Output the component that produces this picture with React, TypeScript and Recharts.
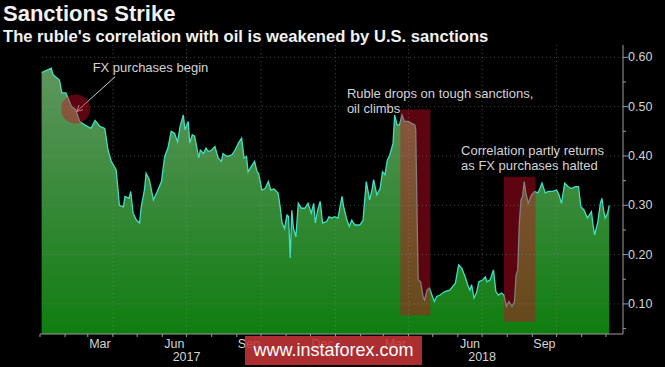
import React from "react";
import {
  Area,
  AreaChart,
  ReferenceArea,
  ReferenceDot,
  ReferenceLine,
  XAxis,
  YAxis,
} from "recharts";

// x values are days since 1 Jan 2017
const DAYS = [
  2, 14, 16, 24, 27, 32, 39, 44, 49, 55, 63, 68, 74, 80, 84, 88, 94, 96, 98, 103,
  105, 110, 112, 115, 119, 123, 125, 129, 131, 135, 140, 144, 150, 154, 158, 162,
  166, 170, 173, 177, 179, 183, 185, 188, 191, 196, 198, 202, 205, 208, 212, 216,
  220, 224, 226, 231, 237, 241, 245, 249, 252, 255, 257, 261, 265, 268, 270, 274,
  278, 282, 285, 289, 294, 296, 299, 302, 305, 307, 309, 311, 313, 316, 319, 323,
  327, 331, 335, 338, 340, 343, 346, 349, 354, 357, 360, 364, 368, 373, 375, 379,
  382, 385, 389, 395, 399, 401, 403, 407, 410, 412, 416, 420, 423, 426, 429, 432,
  436, 438, 441, 444, 447, 450, 455, 459, 463, 464, 467, 470, 473, 475, 478, 481,
  484, 487, 490, 494, 500, 506, 513, 517, 521, 525, 529, 531, 533, 536, 539, 542,
  547, 550, 552, 556, 560, 563, 566, 570, 573, 576, 579, 583, 586, 588, 590, 592,
  594, 596, 598, 600, 603, 607, 611, 615, 620, 624, 628, 633, 638, 641, 644, 648,
  652, 656, 661, 665, 668, 672, 676, 681, 683, 685, 689, 692, 694, 696, 698, 701,
  703,
];

const CORR = [
  0.569, 0.578, 0.565, 0.554, 0.528, 0.528, 0.5, 0.494, 0.47, 0.463, 0.456, 0.472,
  0.46, 0.456, 0.412, 0.389, 0.372, 0.338, 0.3, 0.297, 0.318, 0.314, 0.328, 0.284,
  0.27, 0.264, 0.297, 0.331, 0.365, 0.352, 0.311, 0.325, 0.348, 0.399, 0.416, 0.45,
  0.446, 0.429, 0.46, 0.483, 0.453, 0.47, 0.426, 0.443, 0.44, 0.396, 0.412, 0.405,
  0.416, 0.409, 0.412, 0.419, 0.396, 0.389, 0.405, 0.399, 0.402, 0.412, 0.426, 0.436,
  0.396, 0.399, 0.368, 0.379, 0.389, 0.368, 0.365, 0.331, 0.334, 0.348, 0.331, 0.333,
  0.325, 0.304, 0.264, 0.253, 0.28, 0.277, 0.193, 0.29, 0.253, 0.236, 0.304, 0.294,
  0.294, 0.304, 0.284, 0.304, 0.264, 0.29, 0.308, 0.264, 0.267, 0.277, 0.274, 0.277,
  0.274, 0.318, 0.297, 0.27, 0.257, 0.27, 0.26, 0.26, 0.27, 0.311, 0.348, 0.311,
  0.331, 0.352, 0.321, 0.334, 0.368, 0.362, 0.392, 0.402, 0.426, 0.483, 0.463, 0.463,
  0.483, 0.47, 0.47, 0.466, 0.463, 0.453, 0.149, 0.145, 0.115, 0.108, 0.128, 0.132,
  0.118, 0.105, 0.115, 0.118, 0.125, 0.128, 0.142, 0.179, 0.172, 0.155, 0.135, 0.128,
  0.139, 0.112, 0.122, 0.145, 0.149, 0.155, 0.145, 0.149, 0.169, 0.125, 0.118, 0.122,
  0.118, 0.095, 0.105, 0.095, 0.105, 0.159, 0.169, 0.264, 0.311, 0.318, 0.348, 0.325,
  0.304, 0.321, 0.328, 0.325, 0.345, 0.325, 0.328, 0.328, 0.331, 0.321, 0.304, 0.345,
  0.338, 0.334, 0.338, 0.338, 0.297, 0.29, 0.274, 0.287, 0.26, 0.24, 0.267, 0.304,
  0.314, 0.29, 0.274, 0.284, 0.3,
];

const MONTH_STARTS = [
  0, 31, 59, 90, 120, 151, 181, 212, 243, 273, 304, 334, 365, 396, 424, 455, 485,
  516, 546, 577, 608, 638, 669, 699,
];
const QUARTER_STARTS = [90, 181, 273, 365, 455, 546, 638];
const MONTH_LABELS = ["Mar", "Jun", "Sep", "Dec", "Mar", "Jun", "Sep"];
const MONTH_LABEL_DAYS = [74, 166, 258, 349, 439, 531, 623];
const YEAR_LABELS = ["2017", "2018"];
const YEAR_LABEL_DAYS = [181, 546];
const Y_TICKS = [0.05, 0.1, 0.15, 0.2, 0.25, 0.3, 0.35, 0.4, 0.45, 0.5, 0.55, 0.6];
const Y_GRID = [0.1, 0.2, 0.3, 0.4, 0.5, 0.6];

const NOTE_FX = ["FX purchases begin"];
const NOTE_SANCTIONS = ["Ruble drops on tough sanctions,", "oil climbs"];
const NOTE_HALTED = ["Correlation partly returns", "as FX purchases halted"];

const data = DAYS.map((d, i) => ({ day: d, corr: CORR[i] }));
const xTicks = [...MONTH_STARTS, ...MONTH_LABEL_DAYS].sort((a, b) => a - b);

const FONT = "'Liberation Sans', Arial, sans-serif";
const GRID = "rgba(150,150,150,0.45)";
const AXIS = "#9c9c9c";
const TEXT = "#d4d4d4";
const HILITE = "rgba(205,10,35,0.45)";

function XTick(props: any) {
  const { x, y, payload } = props;
  const v = payload.value;
  const out: React.ReactNode[] = [];
  if (MONTH_STARTS.includes(v)) {
    out.push(<line key="t" x1={x} x2={x} y1={y} y2={y + 3} stroke={AXIS} />);
  }
  const mi = MONTH_LABEL_DAYS.indexOf(v);
  if (mi >= 0) {
    out.push(
      <text key="m" x={x} y={y + 10} textAnchor="middle" dominantBaseline="central"
        fill={TEXT} fontSize={12.5} fontFamily={FONT}>
        {MONTH_LABELS[mi]}
      </text>
    );
  }
  const yi = YEAR_LABEL_DAYS.indexOf(v);
  if (yi >= 0) {
    out.push(
      <text key="y" x={x} y={y + 23} textAnchor="middle" dominantBaseline="central"
        fill={TEXT} fontSize={12.5} fontFamily={FONT}>
        {YEAR_LABELS[yi]}
      </text>
    );
  }
  return <g>{out}</g>;
}

function YTick(props: any) {
  const { x, y, payload } = props;
  const v = payload.value;
  const major = Math.abs(v * 10 - Math.round(v * 10)) < 1e-6;
  return (
    <g>
      <line x1={x} x2={x + (major ? 5 : 3)} y1={y} y2={y} stroke={AXIS} />
      {major && (
        <text x={x + 5} y={y} dominantBaseline="central" fill={TEXT}
          fontSize={12.5} fontFamily={FONT}>
          {v.toFixed(2)}
        </text>
      )}
    </g>
  );
}

function noteShape(lines: string[]) {
  return (p: any) => (
    <text x={p.cx} y={p.cy} fill={TEXT} fontSize={13} fontFamily={FONT}>
      {lines.map((l, i) => (
        <tspan key={i} x={p.cx} dy={i === 0 ? 0 : 15}>
          {l}
        </tspan>
      ))}
    </text>
  );
}

function Arrow(p: any) {
  const { x1, y1, x2, y2 } = p;
  const a = Math.atan2(y2 - y1, x2 - x1);
  const L = 7;
  const ax = x2 - L * Math.cos(a - 0.45);
  const ay = y2 - L * Math.sin(a - 0.45);
  const bx = x2 - L * Math.cos(a + 0.45);
  const by = y2 - L * Math.sin(a + 0.45);
  return (
    <g stroke="#cfcfcf" strokeWidth={1} fill="none">
      <line x1={x1} y1={y1} x2={x2} y2={y2} />
      <polyline points={`${ax},${ay} ${x2},${y2} ${bx},${by}`} />
    </g>
  );
}

export default function App() {
  return (
    <div
      style={{
        position: "absolute",
        left: 0,
        top: 0,
        width: 665,
        height: 367,
        background: "#000",
        overflow: "hidden",
        fontFamily: FONT,
      }}
    >
      <div style={{ position: "absolute", left: 3, top: 1, color: "#f2f2f2", fontSize: 22, fontWeight: 700, lineHeight: "26px" }}>
        Sanctions Strike
      </div>
      <div style={{ position: "absolute", left: 3, top: 26, color: "#f2f2f2", fontSize: 16.6, fontWeight: 700, lineHeight: "22px" }}>
        The ruble's correlation with oil is weakened by U.S. sanctions
      </div>
      <div style={{ position: "absolute", left: 0, top: 0 }}>
        <AreaChart width={665} height={367} data={data} margin={{ top: 45, right: 0, bottom: 0, left: 40 }}>
          <defs>
            <linearGradient id="corrFill" x1="0" y1="0" x2="0" y2="1">
              <stop offset="0%" stopColor="#5f965f" />
              <stop offset="100%" stopColor="#0f7d10" />
            </linearGradient>
          </defs>
          <XAxis
            dataKey="day"
            type="number"
            domain={[0, 720]}
            ticks={xTicks}
            interval={0}
            height={33}
            stroke={AXIS}
            tickLine={false}
            tickSize={0}
            tickMargin={0}
            tick={<XTick />}
          />
          <YAxis
            orientation="right"
            type="number"
            domain={[0.039, 0.625]}
            allowDataOverflow
            ticks={Y_TICKS}
            interval={0}
            width={42}
            stroke={AXIS}
            tickLine={false}
            tickSize={0}
            tickMargin={0}
            tick={<YTick />}
          />
          <Area
            type="linear"
            dataKey="corr"
            stroke="#3fe0c6"
            strokeWidth={1.3}
            fill="url(#corrFill)"
            fillOpacity={1}
            isAnimationActive={false}
            dot={false}
            activeDot={false}
          />
          {Y_GRID.map((v) => (
            <ReferenceLine key={"h" + v} y={v} stroke={GRID} strokeDasharray="1 3" />
          ))}
          {QUARTER_STARTS.map((d) => (
            <ReferenceLine key={"v" + d} x={d} stroke={GRID} strokeDasharray="1 3" />
          ))}
          <ReferenceArea x1={445} x2={482} y1={0.077} y2={0.494} fill={HILITE} fillOpacity={1} stroke="none" />
          <ReferenceArea x1={573} x2={612} y1={0.064} y2={0.358} fill={HILITE} fillOpacity={1} stroke="none" />
          <ReferenceDot x={44} y={0.495} r={14.5} fill={HILITE} stroke="none" />
          <ReferenceLine
            segment={[{ x: 93, y: 0.561 }, { x: 45, y: 0.49 }]}
            shape={Arrow}
          />
          <ReferenceDot x={65} y={0.57} r={0} shape={noteShape(NOTE_FX)} />
          <ReferenceDot x={379} y={0.517} r={0} shape={noteShape(NOTE_SANCTIONS)} />
          <ReferenceDot x={520} y={0.402} r={0} shape={noteShape(NOTE_HALTED)} />
        </AreaChart>
      </div>
      <div
        style={{
          position: "absolute",
          left: 245,
          top: 336,
          width: 177,
          height: 29,
          background: "rgba(196,52,56,0.88)",
          color: "#fff",
          fontSize: 18,
          lineHeight: "29px",
          textAlign: "center",
          fontFamily: "'Liberation Sans', Arial, sans-serif",
        }}
      >
        www.instaforex.com
      </div>
    </div>
  );
}
